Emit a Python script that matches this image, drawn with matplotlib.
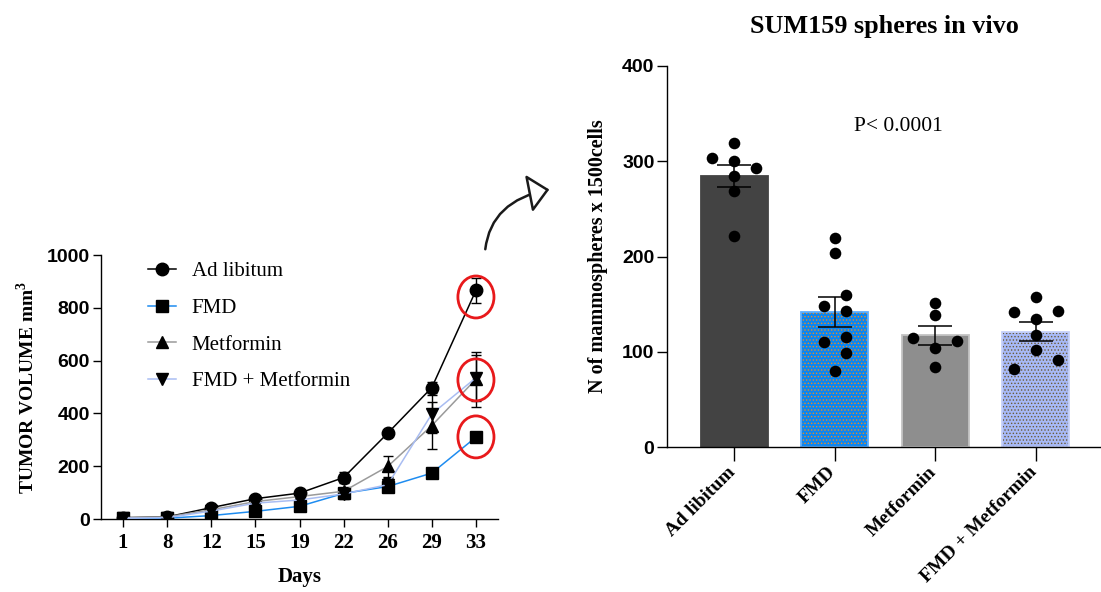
import numpy as np
import matplotlib
matplotlib.use("Agg")
import matplotlib.pyplot as plt
from matplotlib.patches import Ellipse, FancyArrowPatch

plt.rcParams['mathtext.fontset'] = 'custom'
plt.rcParams['mathtext.rm'] = 'Liberation Serif'
plt.rcParams['mathtext.bf'] = 'Liberation Serif:bold'
plt.rcParams['hatch.linewidth'] = 0.6
plt.rcParams['axes.linewidth'] = 1.0

SERIF = 'Liberation Serif'
SANS = 'Liberation Sans'

# tumour volume (mm3) per measurement day, mean and SEM
days = ['1', '8', '12', '15', '19', '22', '26', '29', '33']
ad_lib = [5, 8, 43, 77, 98, 157, 325, 498, 866]
ad_lib_err = [2, 2, 5, 6, 8, 20, 10, 22, 48]
fmd = [3, 3, 13, 29, 48, 97, 123, 174, 310]
fmd_err = [1, 1, 3, 5, 6, 22, 18, 10, 12]
metf = [5, 8, 35, 66, 85, 105, 199, 354, 530]
metf_err = [1, 2, 5, 6, 8, 12, 40, 89, 104]
fmd_metf = [3, 5, 30, 60, 72, 95, 130, 398, 535]
fmd_metf_err = [1, 1, 4, 5, 6, 10, 26, 72, 88]

# mammospheres per 1500 cells, single replicates
groups = ['Ad libitum', 'FMD', 'Metformin', 'FMD + Metformin']
sph_ad_lib = [319, 303, 300, 293, 285, 269, 222]
sph_fmd = [219, 204, 160, 148, 143, 115, 110, 99, 80]
sph_metf = [151, 139, 114, 111, 104, 84]
sph_fmd_metf = [158, 142, 143, 134, 118, 102, 91, 82]
# horizontal spread of the replicate dots inside each bar
sph_ad_lib_dx = [0, -0.22, 0, 0.22, 0, 0, 0]
sph_fmd_dx = [0, 0, 0.11, -0.11, 0.11, 0.11, -0.11, 0.11, 0]
sph_metf_dx = [0, 0, -0.22, 0.22, 0, 0]
sph_fmd_metf_dx = [0, -0.22, 0.22, 0, 0, 0, 0.22, -0.22]

fig = plt.figure(figsize=(11.01, 5.92), dpi=100)

# ---- growth curves ----
ax = fig.add_axes([101 / 1101, 1 - 519 / 592, 397 / 1101, 264 / 592])
x = np.arange(len(days))
series = [
    (ad_lib, ad_lib_err, 'o', '#000000', 'Ad libitum'),
    (fmd, fmd_err, 's', '#1e8cf0', 'FMD'),
    (metf, metf_err, '^', '#9a9a9a', 'Metformin'),
    (fmd_metf, fmd_metf_err, 'v', '#a9bdf2', 'FMD + Metformin'),
]
for vals, err, mk, col, lab in series:
    ax.errorbar(x, vals, yerr=err, fmt='none', ecolor='black', elinewidth=1.0,
                capsize=3.6, capthick=1.0, zorder=3)
    ax.plot(x, vals, color=col, lw=1.1, marker=mk, markersize=9,
            markerfacecolor='black', markeredgecolor='black', label=lab, zorder=4)

ax.set_xlim(-0.5, 8.5)
ax.set_ylim(0, 1000)
ax.set_xticks(x)
ax.set_xticklabels(days, fontfamily=SERIF, fontweight='bold', fontsize=15)
ax.set_yticks([0, 200, 400, 600, 800, 1000])
ax.set_yticklabels(['0', '200', '400', '600', '800', '1000'],
                   fontfamily=SANS, fontweight='bold', fontsize=14)
ax.tick_params(axis='x', length=6, width=1.0, pad=4)
ax.tick_params(axis='y', length=6, width=1.0, pad=2)
ax.spines['top'].set_visible(False)
ax.spines['right'].set_visible(False)
ax.set_xlabel('Days', fontfamily=SERIF, fontweight='bold', fontsize=15, labelpad=10)
ax.set_ylabel('TUMOR VOLUME mm$^{\\mathbf{3}}$', fontfamily=SERIF,
              fontweight='bold', fontsize=14, labelpad=6)

leg = ax.legend(loc='upper left', bbox_to_anchor=((148 - 101) / 397, 0.975),
                frameon=False, handlelength=1.35, handletextpad=0.75,
                labelspacing=0.82, borderpad=0, borderaxespad=0,
                prop={'family': SERIF, 'size': 15})

# red rings around the final time point
for cy in [841, 527, 311]:
    ax.add_patch(Ellipse((8, cy), width=36 / 44, height=42 / 0.264, fill=False,
                         edgecolor='#e8191b', lw=2.0, clip_on=False, zorder=6))

# ---- mammosphere bars ----
bx = fig.add_axes([667 / 1101, 1 - 447 / 592, 434 / 1101, 381 / 592])
sets = [sph_ad_lib, sph_fmd, sph_metf, sph_fmd_metf]
spreads = [sph_ad_lib_dx, sph_fmd_dx, sph_metf_dx, sph_fmd_metf_dx]
faces = ['#434343', '#0a86f2', '#8e8e8e', '#a7b9f6']
edges = ['#434343', '#5fb0ff', '#c4c4c4', '#c6d1fa']
hatches = [None, '.....', None, '.....']
hatch_cols = [None, '#f28a1c', None, '#6b5a36']
means = [np.mean(s) for s in sets]
sems = [np.std(s, ddof=1) / np.sqrt(len(s)) for s in sets]
bpos = np.arange(len(groups))
for i in range(len(groups)):
    bx.bar(bpos[i], means[i], width=0.667, color=faces[i], edgecolor='none', zorder=1)
    if hatches[i]:
        bx.bar(bpos[i], means[i], width=0.667, color='none', edgecolor=hatch_cols[i],
               hatch=hatches[i], linewidth=0, zorder=1.5)
    bx.bar(bpos[i], means[i], width=0.667, color='none', edgecolor=edges[i],
           linewidth=1.3, zorder=2)
    bx.errorbar(bpos[i], means[i], yerr=sems[i], fmt='none', ecolor='black',
                elinewidth=1.1, capsize=11.9, capthick=1.1, zorder=3)
    bx.scatter(bpos[i] + np.array(spreads[i]), sets[i], s=70, color='black',
               zorder=4, linewidths=0)

bx.set_xlim(-0.667, 3.65)
bx.set_ylim(0, 400)
bx.set_yticks([0, 100, 200, 300, 400])
bx.set_yticklabels(['0', '100', '200', '300', '400'], fontfamily=SANS,
                   fontweight='bold', fontsize=14)
bx.set_xticks(bpos)
bx.set_xticklabels([])
# slanted group names, anchored just below each tick
for i, name in enumerate(groups):
    bx.annotate(name, xy=(bpos[i], 0), xycoords=('data', 'axes fraction'),
                xytext=(-5.5, -12), textcoords='offset points', rotation=45,
                ha='right', va='top', rotation_mode='anchor',
                fontfamily=SERIF, fontweight='bold', fontsize=14,
                annotation_clip=False)
bx.tick_params(axis='x', length=10, width=1.0, pad=4)
bx.tick_params(axis='y', length=7, width=1.0, pad=2)
bx.spines['top'].set_visible(False)
bx.spines['right'].set_visible(False)
bx.set_ylabel('N of mammospheres x 1500cells', fontfamily=SERIF,
              fontweight='bold', fontsize=14.5, labelpad=10)
bx.text((884 - 667) / 434, 1 + (66 - 27) / 381, 'SUM159 spheres in vivo',
        transform=bx.transAxes, ha='center', va='center', fontfamily=SERIF,
        fontweight='bold', fontsize=18.8)
bx.text(1.63, 337, 'P< 0.0001', ha='center', va='center', fontfamily=SERIF,
        fontsize=15.5)

# curved arrow pointing from the growth curves to the bars
arr = FancyArrowPatch((485 / 1101, 1 - 252 / 592), (552 / 1101, 1 - 189 / 592),
                      transform=fig.transFigure,
                      connectionstyle='angle3,angleA=85,angleB=10',
                      arrowstyle='-|>,head_length=0.65,head_width=0.6',
                      mutation_scale=20, facecolor='white', edgecolor='#1a1a1a',
                      lw=1.8)
fig.patches.append(arr)

fig.savefig('out.png', dpi=100)
